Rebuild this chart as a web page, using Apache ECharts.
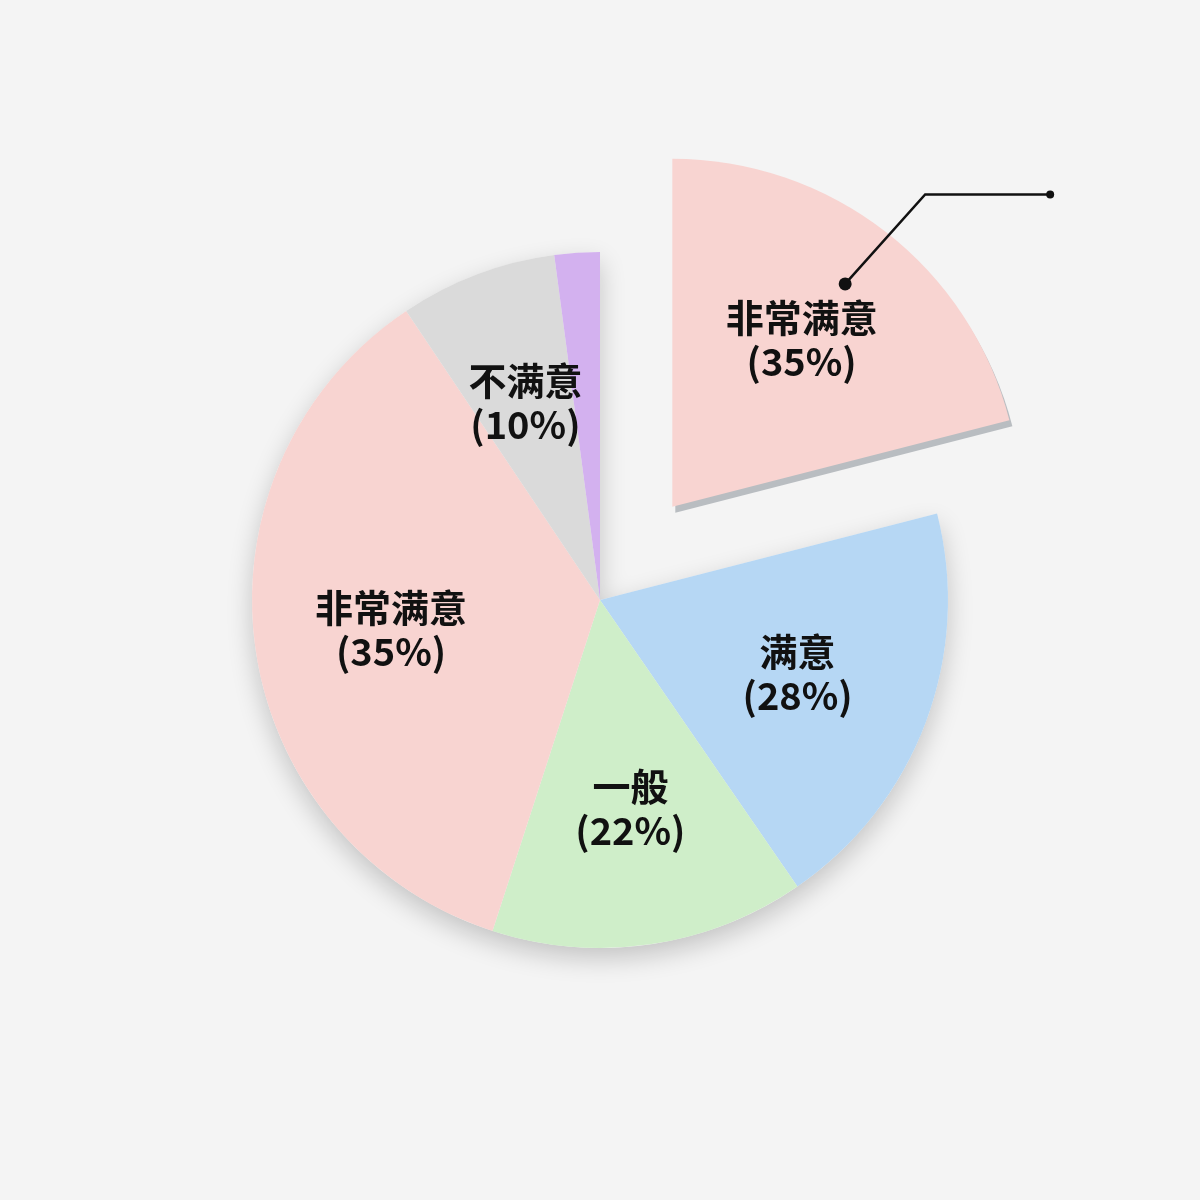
<!DOCTYPE html>
<html>
<head>
<meta charset="utf-8">
<script src="https://cdn.jsdelivr.net/npm/echarts@6/dist/echarts.min.js"></script>
<style>
  html, body { margin: 0; padding: 0; background: #f4f4f4; }
  #main { width: 1200px; height: 1200px; }
</style>
</head>
<body>
<div id="main"></div>
<script>
// ------------------- data -------------------
var names = ['非常满意', '满意', '一般', '非常满意', '不满意', ''];
var labelTexts = ['35%', '28%', '22%', '35%', '10%', ''];
// share of the circle each slice takes in the picture
var values = [21.0, 19.4, 14.6, 35.6, 7.3, 2.1];
var colors = ['#f8d4d1', '#b6d7f4', '#cfeec9', '#f8d4d1', '#dadada', '#d3b1ef'];
var explodedIndex = 0;

// ------------------- layout -------------------
var cx = 600, cy = 600, R = 348, offset = 118;

var pieData = [];
var labelData = [];
var shadowData = [];
for (var i = 0; i < values.length; i++) {
  var st = i === explodedIndex ? {
    color: colors[i],
    borderWidth: 0,
    shadowColor: '#b9bdc1',
    shadowBlur: 0,
    shadowOffsetX: 3,
    shadowOffsetY: 6
  } : { color: colors[i], borderWidth: 0 };
  pieData.push({
    name: names[i] + i,
    value: values[i],
    selected: i === explodedIndex,
    itemStyle: st,
    select: { itemStyle: st }
  });
  labelData.push({
    name: names[i] + i,
    value: values[i],
    selected: i === explodedIndex,
    label: {
      show: names[i] !== '',
      formatter: names[i] + '\n(' + labelTexts[i] + ')'
    }
  });
}
shadowData.push({ value: values[explodedIndex], itemStyle: { color: 'rgba(0,0,0,0)' } });
var rest = 0;
for (var j = 0; j < values.length; j++) { if (j !== explodedIndex) rest += values[j]; }
shadowData.push({
  value: rest,
  itemStyle: {
    color: '#f4f4f4',
    shadowBlur: 26,
    shadowColor: 'rgba(0,0,0,0.2)',
    shadowOffsetY: 10
  }
});

// leader line on the exploded slice, roughly along its bisector
var total = 0;
for (var k = 0; k < values.length; k++) total += values[k];
var before = 0;
for (var m = 0; m < explodedIndex; m++) before += values[m];
var midAngle = -Math.PI / 2 + (before + values[explodedIndex] / 2) / total * Math.PI * 2;
var ox = cx + Math.cos(midAngle) * offset;
var oy = cy + Math.sin(midAngle) * offset;
var p1 = [ox + Math.cos(midAngle) * 282, oy + Math.sin(midAngle) * 282];
var lineAngle = midAngle + 0.07;
var p2 = [p1[0] + Math.cos(lineAngle) * 120, p1[1] + Math.sin(lineAngle) * 120];
var p3 = [p2[0] + 125, p2[1]];

var option = {
  backgroundColor: '#f4f4f4',
  animation: false,
  series: [
    {
      type: 'pie',
      silent: true,
      z: 1,
      center: [cx, cy],
      radius: [0, R],
      startAngle: 90,
      label: { show: false },
      labelLine: { show: false },
      data: shadowData
    },
    {
      type: 'pie',
      z: 2,
      center: [cx, cy],
      radius: [0, R],
      startAngle: 90,
      selectedMode: 'single',
      selectedOffset: offset,
      emphasis: { scale: false },
      label: { show: false },
      labelLine: { show: false },
      data: pieData
    },
    {
      type: 'pie',
      silent: true,
      z: 3,
      center: [cx, cy],
      radius: [68, R],
      startAngle: 90,
      selectedMode: 'single',
      selectedOffset: offset,
      itemStyle: { color: 'rgba(0,0,0,0)', borderWidth: 0 },
      select: { itemStyle: { color: 'rgba(0,0,0,0)', borderWidth: 0 } },
      label: {
        position: 'inside',
        color: '#111',
        fontSize: 38,
        fontWeight: 'bold',
        lineHeight: 44,
        fontFamily: '"Noto Sans CJK SC", "Noto Sans", sans-serif'
      },
      labelLine: { show: false },
      data: labelData
    }
  ],
  graphic: [
    {
      type: 'polyline',
      z: 10,
      shape: { points: [p1, p2, p3] },
      style: { stroke: '#111', lineWidth: 2.5, fill: null }
    },
    {
      type: 'circle',
      z: 11,
      shape: { cx: p1[0], cy: p1[1], r: 6.5 },
      style: { fill: '#111' }
    },
    {
      type: 'circle',
      z: 11,
      shape: { cx: p3[0], cy: p3[1], r: 4 },
      style: { fill: '#111' }
    }
  ]
};

echarts.init(document.getElementById('main')).setOption(option);
</script>
</body>
</html>
